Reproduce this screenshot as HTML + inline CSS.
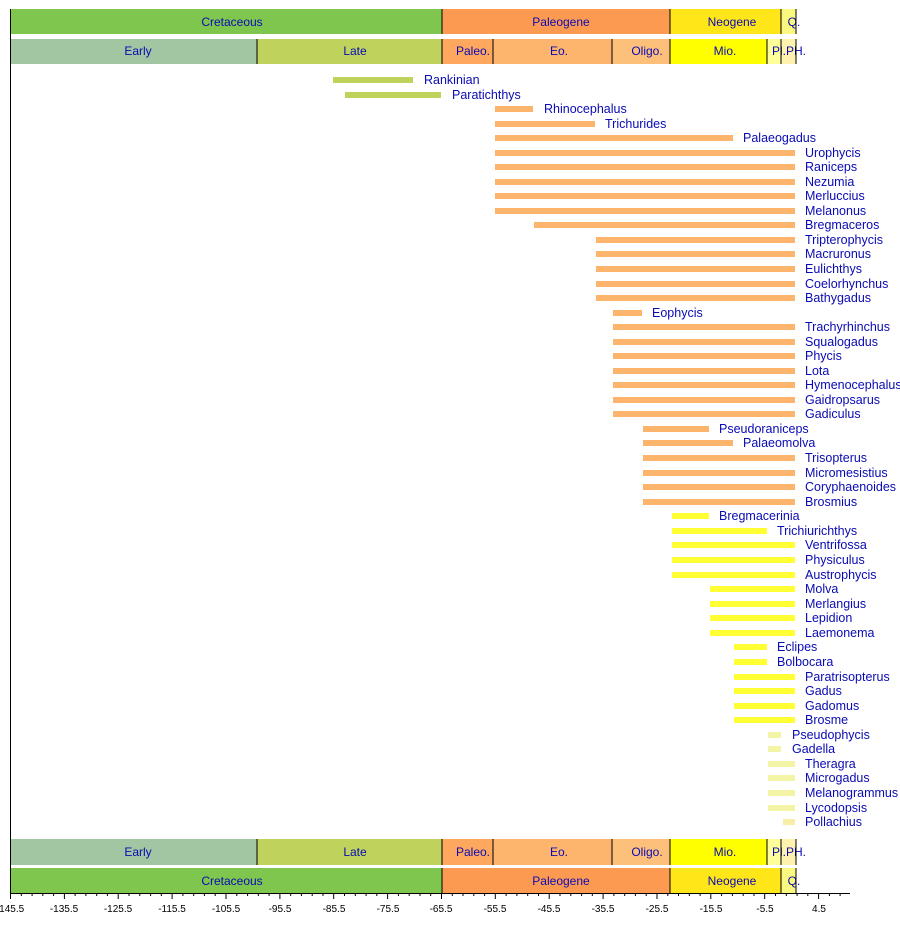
<!DOCTYPE html>
<html><head><meta charset="utf-8"><style>
body{margin:0;background:#fff}
svg{display:block;font-family:"Liberation Sans",sans-serif}
.t{fill:#0a0ab4;font-size:12.5px}
.c{fill:#0a0ab4;font-size:12px;text-anchor:middle}
.a{font-size:10px;text-anchor:middle;fill:#000}
</style></head><body>
<svg width="900" height="943" viewBox="0 0 900 943">
<rect x="10" y="9" width="432" height="25" fill="#7fc64e"/>
<rect x="442" y="9" width="228" height="25" fill="#fd9a52"/>
<rect x="670" y="9" width="111" height="25" fill="#ffe619"/>
<rect x="781" y="9" width="15" height="25" fill="#f9f97f"/>
<text class="c" x="232" y="26">Cretaceous</text><text class="c" x="561" y="26">Paleogene</text><text class="c" x="732" y="26">Neogene</text><text class="c" x="794" y="26">Q.</text>
<rect x="10" y="39" width="247" height="25" fill="#a2c6a2"/>
<rect x="257" y="39" width="185" height="25" fill="#bfd35c"/>
<rect x="442" y="39" width="51" height="25" fill="#fda75f"/>
<rect x="493" y="39" width="119" height="25" fill="#fdb46c"/>
<rect x="612" y="39" width="58" height="25" fill="#fdc07a"/>
<rect x="670" y="39" width="97" height="25" fill="#ffff00"/>
<rect x="767" y="39" width="14" height="25" fill="#ffff99"/>
<rect x="781" y="39" width="15" height="25" fill="#fff2ae"/>
<text class="c" x="138" y="55">Early</text><text class="c" x="355" y="55">Late</text><text class="c" x="473" y="55">Paleo.</text><text class="c" x="559" y="55">Eo.</text><text class="c" x="647" y="55">Oligo.</text><text class="c" x="725" y="55">Mio.</text><text class="c" x="789" y="55">Pl.PH.</text>
<g stroke="#000" stroke-width="1">
<line x1="442" y1="9" x2="442" y2="34"/><line x1="670" y1="9" x2="670" y2="34"/><line x1="781" y1="9" x2="781" y2="34"/><line x1="796" y1="9" x2="796" y2="34"/>
<line x1="257" y1="39" x2="257" y2="64"/><line x1="442" y1="39" x2="442" y2="64"/><line x1="493" y1="39" x2="493" y2="64"/><line x1="612" y1="39" x2="612" y2="64"/><line x1="670" y1="39" x2="670" y2="64"/><line x1="767" y1="39" x2="767" y2="64"/><line x1="781" y1="39" x2="781" y2="64"/><line x1="796" y1="39" x2="796" y2="64"/>
</g>
<rect x="10" y="839" width="247" height="26" fill="#a2c6a2"/>
<rect x="257" y="839" width="185" height="26" fill="#bfd35c"/>
<rect x="442" y="839" width="51" height="26" fill="#fda75f"/>
<rect x="493" y="839" width="119" height="26" fill="#fdb46c"/>
<rect x="612" y="839" width="58" height="26" fill="#fdc07a"/>
<rect x="670" y="839" width="97" height="26" fill="#ffff00"/>
<rect x="767" y="839" width="14" height="26" fill="#ffff99"/>
<rect x="781" y="839" width="15" height="26" fill="#fff2ae"/>
<text class="c" x="138" y="856">Early</text><text class="c" x="355" y="856">Late</text><text class="c" x="473" y="856">Paleo.</text><text class="c" x="559" y="856">Eo.</text><text class="c" x="647" y="856">Oligo.</text><text class="c" x="725" y="856">Mio.</text><text class="c" x="789" y="856">Pl.PH.</text>
<rect x="10" y="868" width="432" height="25" fill="#7fc64e"/>
<rect x="442" y="868" width="228" height="25" fill="#fd9a52"/>
<rect x="670" y="868" width="111" height="25" fill="#ffe619"/>
<rect x="781" y="868" width="15" height="25" fill="#f9f97f"/>
<text class="c" x="232" y="885">Cretaceous</text><text class="c" x="561" y="885">Paleogene</text><text class="c" x="732" y="885">Neogene</text><text class="c" x="794" y="885">Q.</text>
<g stroke="#000" stroke-width="1">
<line x1="257" y1="839" x2="257" y2="865"/><line x1="442" y1="839" x2="442" y2="865"/><line x1="493" y1="839" x2="493" y2="865"/><line x1="612" y1="839" x2="612" y2="865"/><line x1="670" y1="839" x2="670" y2="865"/><line x1="767" y1="839" x2="767" y2="865"/><line x1="781" y1="839" x2="781" y2="865"/><line x1="796" y1="839" x2="796" y2="865"/>
<line x1="442" y1="868" x2="442" y2="893"/><line x1="670" y1="868" x2="670" y2="893"/><line x1="781" y1="868" x2="781" y2="893"/><line x1="796" y1="868" x2="796" y2="893"/>
<line x1="10.5" y1="9" x2="10.5" y2="893"/>
<line x1="10" y1="893.5" x2="850" y2="893.5"/>
</g>
<g stroke="#000" stroke-width="1">
<path d="M10.5 893v6M64.4 893v6M118.2 893v6M172.1 893v6M226 893v6M279.9 893v6M333.7 893v6M387.6 893v6M441.5 893v6M495.3 893v6M549.2 893v6M603.1 893v6M657 893v6M710.8 893v6M764.7 893v6M818.6 893v6"/>
<path d="M21.3 893v3M32.1 893v3M42.8 893v3M53.6 893v3M75.1 893v3M85.9 893v3M96.7 893v3M107.4 893v3M129 893v3M139.8 893v3M150.6 893v3M161.3 893v3M182.9 893v3M193.7 893v3M204.4 893v3M215.2 893v3M236.8 893v3M247.6 893v3M258.3 893v3M269.1 893v3M290.7 893v3M301.4 893v3M312.2 893v3M323 893v3M344.5 893v3M355.3 893v3M366.1 893v3M376.8 893v3M398.4 893v3M409.2 893v3M420 893v3M430.7 893v3M452.3 893v3M463 893v3M473.8 893v3M484.6 893v3M506.1 893v3M516.9 893v3M527.7 893v3M538.5 893v3M560 893v3M570.8 893v3M581.6 893v3M592.3 893v3M613.9 893v3M624.7 893v3M635.4 893v3M646.2 893v3M667.8 893v3M678.5 893v3M689.3 893v3M700.1 893v3M721.6 893v3M732.4 893v3M743.2 893v3M754 893v3M775.5 893v3M786.3 893v3M797.1 893v3M807.8 893v3M829.4 893v3M840.1 893v3"/>
</g>
<g class="a">
<text x="10" y="912">-145.5</text><text x="64" y="912">-135.5</text><text x="118" y="912">-125.5</text><text x="172" y="912">-115.5</text><text x="226" y="912">-105.5</text><text x="280" y="912">-95.5</text><text x="334" y="912">-85.5</text><text x="388" y="912">-75.5</text><text x="441" y="912">-65.5</text><text x="495" y="912">-55.5</text><text x="549" y="912">-45.5</text><text x="603" y="912">-35.5</text><text x="657" y="912">-25.5</text><text x="711" y="912">-15.5</text><text x="765" y="912">-5.5</text><text x="819" y="912">4.5</text>
</g>
<g>
<rect x="333" y="77" width="80" height="6" fill="#bfd35c"/>
<rect x="345" y="92" width="96" height="6" fill="#bfd35c"/>
<g fill="#fdb46c">
<rect x="495" y="106" width="38" height="6"/>
<rect x="495" y="121" width="100" height="6"/>
<rect x="495" y="135" width="238" height="6"/>
<rect x="495" y="150" width="300" height="6"/>
<rect x="495" y="164" width="300" height="6"/>
<rect x="495" y="179" width="300" height="6"/>
<rect x="495" y="193" width="300" height="6"/>
<rect x="495" y="208" width="300" height="6"/>
<rect x="534" y="222" width="261" height="6"/>
<rect x="596" y="237" width="199" height="6"/>
<rect x="596" y="251" width="199" height="6"/>
<rect x="596" y="266" width="199" height="6"/>
<rect x="596" y="281" width="199" height="6"/>
<rect x="596" y="295" width="199" height="6"/>
<rect x="613" y="310" width="29" height="6"/>
<rect x="613" y="324" width="182" height="6"/>
<rect x="613" y="339" width="182" height="6"/>
<rect x="613" y="353" width="182" height="6"/>
<rect x="613" y="368" width="182" height="6"/>
<rect x="613" y="382" width="182" height="6"/>
<rect x="613" y="397" width="182" height="6"/>
<rect x="613" y="411" width="182" height="6"/>
<rect x="643" y="426" width="66" height="6"/>
<rect x="643" y="440" width="90" height="6"/>
<rect x="643" y="455" width="152" height="6"/>
<rect x="643" y="470" width="152" height="6"/>
<rect x="643" y="484" width="152" height="6"/>
<rect x="643" y="499" width="152" height="6"/>
</g>
<g fill="#ffff33">
<rect x="672" y="513" width="37" height="6"/>
<rect x="672" y="528" width="95" height="6"/>
<rect x="672" y="542" width="123" height="6"/>
<rect x="672" y="557" width="123" height="6"/>
<rect x="672" y="572" width="123" height="6"/>
<rect x="710" y="586" width="85" height="6"/>
<rect x="710" y="601" width="85" height="6"/>
<rect x="710" y="615" width="85" height="6"/>
<rect x="710" y="630" width="85" height="6"/>
<rect x="734" y="644" width="33" height="6"/>
<rect x="734" y="659" width="33" height="6"/>
<rect x="734" y="674" width="61" height="6"/>
<rect x="734" y="688" width="61" height="6"/>
<rect x="734" y="703" width="61" height="6"/>
<rect x="734" y="717" width="61" height="6"/>
</g>
<g fill="#f4f4a6">
<rect x="768" y="732" width="13" height="6"/>
<rect x="768" y="746" width="13" height="6"/>
<rect x="768" y="761" width="27" height="6"/>
<rect x="768" y="775" width="27" height="6"/>
<rect x="768" y="790" width="27" height="6"/>
<rect x="768" y="805" width="27" height="6"/>
<rect x="783" y="819" width="12" height="6" fill="#f8eea8"/>
</g>
</g>
<g class="t">
<text x="424" y="84">Rankinian</text>
<text x="452" y="99">Paratichthys</text>
<text x="544" y="113">Rhinocephalus</text>
<text x="605" y="128">Trichurides</text>
<text x="743" y="142">Palaeogadus</text>
<text x="805" y="157">Urophycis</text>
<text x="805" y="171">Raniceps</text>
<text x="805" y="186">Nezumia</text>
<text x="805" y="200">Merluccius</text>
<text x="805" y="215">Melanonus</text>
<text x="805" y="229">Bregmaceros</text>
<text x="805" y="244">Tripterophycis</text>
<text x="805" y="258">Macruronus</text>
<text x="805" y="273">Eulichthys</text>
<text x="805" y="288">Coelorhynchus</text>
<text x="805" y="302">Bathygadus</text>
<text x="652" y="317">Eophycis</text>
<text x="805" y="331">Trachyrhinchus</text>
<text x="805" y="346">Squalogadus</text>
<text x="805" y="360">Phycis</text>
<text x="805" y="375">Lota</text>
<text x="805" y="389">Hymenocephalus</text>
<text x="805" y="404">Gaidropsarus</text>
<text x="805" y="418">Gadiculus</text>
<text x="719" y="433">Pseudoraniceps</text>
<text x="743" y="447">Palaeomolva</text>
<text x="805" y="462">Trisopterus</text>
<text x="805" y="477">Micromesistius</text>
<text x="805" y="491">Coryphaenoides</text>
<text x="805" y="506">Brosmius</text>
<text x="719" y="520">Bregmacerinia</text>
<text x="777" y="535">Trichiurichthys</text>
<text x="805" y="549">Ventrifossa</text>
<text x="805" y="564">Physiculus</text>
<text x="805" y="579">Austrophycis</text>
<text x="805" y="593">Molva</text>
<text x="805" y="608">Merlangius</text>
<text x="805" y="622">Lepidion</text>
<text x="805" y="637">Laemonema</text>
<text x="777" y="651">Eclipes</text>
<text x="777" y="666">Bolbocara</text>
<text x="805" y="681">Paratrisopterus</text>
<text x="805" y="695">Gadus</text>
<text x="805" y="710">Gadomus</text>
<text x="805" y="724">Brosme</text>
<text x="792" y="739">Pseudophycis</text>
<text x="792" y="753">Gadella</text>
<text x="805" y="768">Theragra</text>
<text x="805" y="782">Microgadus</text>
<text x="805" y="797">Melanogrammus</text>
<text x="805" y="812">Lycodopsis</text>
<text x="805" y="826">Pollachius</text>
</g>
</svg>
</body></html>
